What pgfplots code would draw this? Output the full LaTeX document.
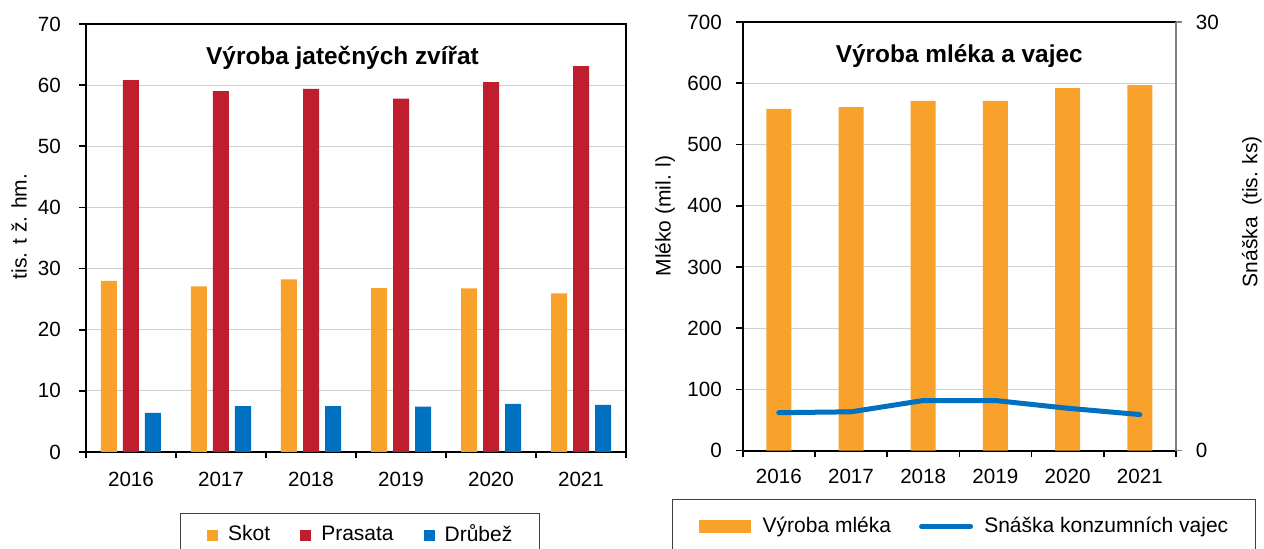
\documentclass[border=0pt]{standalone}
\usepackage{fontspec}
\setmainfont{Liberation Sans}
\usepackage{pgfplots}
\pgfplotsset{compat=1.18}
\definecolor{cOrange}{HTML}{F8A12B}
\definecolor{cRed}{HTML}{BE1E2D}
\definecolor{cBlue}{HTML}{0070C0}
\definecolor{cGrid}{HTML}{D0D0D0}
\pgfplotsset{
  base/.style={
    scale only axis,
    /pgf/number format/assume math mode=true,
    font=\fontsize{10.5}{12}\selectfont,
    tick label style={font=\fontsize{10.3}{12}\selectfont, inner sep=0pt},
    xmin=-0.5, xmax=5.5,
    xtick={-0.5,0.5,1.5,2.5,3.5,4.5,5.5},
    xticklabels={2016,2017,2018,2019,2020,2021},
    x tick label as interval,
    tick align=outside,
    major tick length=3.25pt,
    tick style={line width=0.8pt, black},
    axis line style={black, line width=1pt},
    y grid style={cGrid, line width=0.5pt},
    title style={font=\fontsize{12.2}{14}\selectfont\bfseries, anchor=base, yshift=-6pt},
    ylabel style={anchor=center},
  },
}
\begin{document}
\begin{tikzpicture}
\begin{scope}
\clip (0,0) rectangle (632pt,274.5pt);
% ---------- left chart ----------
\begin{axis}[base,
  at={(43pt,48.5pt)}, anchor=south west, width=270pt, height=214pt,
  ymin=0, ymax=70, ytick={0,10,...,70},
  ymajorgrids,
  tick pos=left,
  ybar=3pt, bar width=8pt,
  xticklabel style={yshift=-6.65pt},
  yticklabel style={xshift=-9.15pt},
  ylabel={tis. t ž. hm.},
  ylabel style={at={(axis description cs:-0.124,0.527)}},
  title={Výroba jatečných zvířat},
  title style={at={(axis description cs:0.475,0.9065)}},
  legend columns=3,
  legend image code/.code={\fill[#1] (0pt,-3.25pt) rectangle (5.5pt,2.25pt);},
  legend style={at={(axis description cs:0.507,-0.1418)}, anchor=north,
    draw=black!75, line width=0.5pt, inner xsep=13.5pt, inner ysep=5.6pt,
    font=\fontsize{10.5}{12}\selectfont, nodes={inner sep=0pt},
    /tikz/every odd column/.append style={column sep=5pt},
    /tikz/every even column/.append style={column sep=15pt}},
  legend cell align=left,
]
\addplot[fill=cOrange, draw=none] coordinates {(0,28.0) (1,27.1) (2,28.25) (3,26.8) (4,26.75) (5,25.95)};
\addlegendentry{Skot}
\addplot[fill=cRed, draw=none] coordinates {(0,60.8) (1,59.0) (2,59.4) (3,57.8) (4,60.5) (5,63.1)};
\addlegendentry{Prasata}
\addplot[fill=cBlue, draw=none] coordinates {(0,6.4) (1,7.5) (2,7.5) (3,7.4) (4,7.85) (5,7.7)};
\addlegendentry{Drůbež}
\end{axis}
% ---------- right chart: milk (left y axis) ----------
\begin{axis}[base,
  at={(371.35pt,49.15pt)}, anchor=south west, width=216.6pt, height=214.35pt,
  ymin=0, ymax=700, ytick={0,100,...,700},
  ymajorgrids,
  axis y line*=left, axis x line*=box,
  xtick pos=left, ytick pos=left,
  ybar, bar width=12.5pt,
  xticklabel style={yshift=-5.85pt},
  yticklabel style={xshift=-7pt},
  ylabel={Mléko (mil. l)},
  ylabel style={at={(axis description cs:-0.179,0.5475)}},
  title={Výroba mléka a vajec},
  title style={at={(axis description cs:0.5,0.9044)}},
]
\addplot[fill=cOrange, draw=none] coordinates {(0,558) (1,561) (2,571) (3,571) (4,592) (5,597)};
\end{axis}
% ---------- right chart: eggs (right y axis) ----------
\begin{axis}[base,
  at={(371.35pt,49.15pt)}, anchor=south west, width=216.6pt, height=214.35pt,
  ymin=0, ymax=30, ytick={0,30},
  axis y line*=right, axis x line=none,
  ytick pos=right,
  axis line style={black!50, line width=1pt},
  ytick style={black!50},
  yticklabel style={xshift=6.5pt},
  ylabel={Snáška~ (tis. ks)},
  ylabel style={at={(axis description cs:1.175,0.5575)}},
  legend columns=2,
  legend style={at={(axis description cs:0.5105,-0.112)}, anchor=north,
    draw=black!75, line width=0.5pt, inner xsep=13.5pt, inner ysep=9pt,
    font=\fontsize{10.5}{12}\selectfont, nodes={inner sep=0pt},
    /tikz/every odd column/.append style={column sep=5.6pt},
    /tikz/every even column/.append style={column sep=14pt}},
  legend cell align=left,
]
\addlegendimage{legend image code/.code={\fill[cOrange] (0pt,-3pt) rectangle (25.5pt,3pt);}}
\addlegendentry{Výroba mléka}
\addplot[cBlue, line width=2.5pt, line cap=round, line join=round,
  legend image code/.code={\draw[cBlue, line width=2.5pt, line cap=round] (1.25pt,0pt) -- (25.75pt,0pt);}]
  coordinates {(0,2.66) (1,2.72) (2,3.51) (3,3.51) (4,2.97) (5,2.53)};
\addlegendentry{Snáška konzumních vajec}
\end{axis}
\end{scope}
\pgfresetboundingbox
\path[use as bounding box] (0,0) rectangle (632pt,274.5pt);
\end{tikzpicture}
\end{document}
